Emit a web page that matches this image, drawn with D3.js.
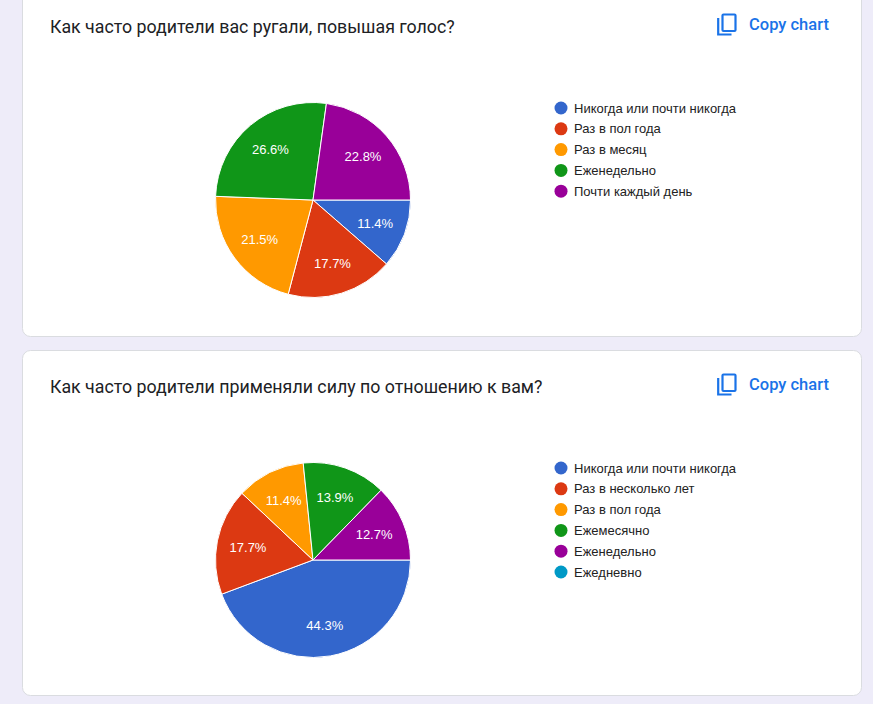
<!DOCTYPE html>
<html><head><meta charset="utf-8">
<script src="https://cdn.jsdelivr.net/npm/d3@7"></script>
<style>
html,body{margin:0;padding:0;background:#eeecf9;}
svg{display:block;}
</style></head>
<body>
<svg id="c" width="873" height="704"></svg>
<script>
const colors = ["#3366cc","#dc3912","#ff9900","#109618","#990099","#0099c6"];

const title1 = "Как часто родители вас ругали, повышая голос?";
const categories1 = ["Никогда или почти никогда","Раз в пол года","Раз в месяц","Еженедельно","Почти каждый день"];
const values1 = [11.4, 17.7, 21.5, 26.6, 22.8];

const title2 = "Как часто родители применяли силу по отношению к вам?";
const categories2 = ["Никогда или почти никогда","Раз в несколько лет","Раз в пол года","Ежемесячно","Еженедельно","Ежедневно"];
const values2 = [44.3, 17.7, 11.4, 13.9, 12.7, 0];

const svg = d3.select("#c");

function card(top, bottom, title, cats, vals) {
  const g = svg.append("g");
  g.append("rect").attr("x",22.5).attr("y",top+0.5).attr("width",839).attr("height",bottom-top)
    .attr("rx",8).attr("fill","#fff").attr("stroke","#dadce0");
  const ty = top + 43;
  g.append("text").attr("x",50).attr("y",ty).attr("font-family","Roboto").attr("font-size",17.8)
    .attr("fill","#202124").text(title);
  // copy icon
  const ix = 717, iy = ty - 20;
  g.append("rect").attr("x",ix+5.5).attr("y",iy+1.5).attr("width",13).attr("height",16.5).attr("rx",1)
    .attr("fill","none").attr("stroke","#1a73e8").attr("stroke-width",2.2);
  g.append("path").attr("d",`M${ix+1.2},${iy+5} V${iy+21.5} H${ix+14.5}`)
    .attr("fill","none").attr("stroke","#1a73e8").attr("stroke-width",2.2);
  g.append("text").attr("x",749).attr("y",ty-3.5).attr("font-family","Roboto").attr("font-weight",500)
    .attr("font-size",16.5).attr("fill","#1a73e8").text("Copy chart");

  const cx = 313, cy = top + 210, r = 97.5;
  const pie = d3.pie().sort(null).startAngle(Math.PI/2).endAngle(Math.PI/2 + 2*Math.PI);
  const arcs = pie(vals);
  const arc = d3.arc().innerRadius(0).outerRadius(r);
  const labelArc = d3.arc().innerRadius(r*0.68).outerRadius(r*0.68);
  const pg = g.append("g").attr("transform",`translate(${cx},${cy})`);
  pg.selectAll("path").data(arcs.filter(d=>d.value>0)).join("path")
    .attr("d",arc).attr("fill",d=>colors[d.index]).attr("stroke","#fff").attr("stroke-width",1);
  pg.selectAll("text").data(arcs.filter(d=>d.value>0)).join("text")
    .attr("transform",d=>`translate(${labelArc.centroid(d)})`)
    .attr("text-anchor","middle").attr("dy","0.36em")
    .attr("font-family","Liberation Sans, Arial").attr("font-size",13).attr("fill","#fff")
    .text(d=>d.value.toFixed(1)+"%");

  const ly = d3.scalePoint().domain(cats).range([top+118, top+118+20.8*(cats.length-1)]);
  const lg = g.append("g");
  lg.selectAll("circle").data(cats).join("circle")
    .attr("cx",561).attr("cy",d=>ly(d)).attr("r",6.5).attr("fill",(d,i)=>colors[i]);
  lg.selectAll("text").data(cats).join("text")
    .attr("x",574).attr("y",d=>ly(d)).attr("dy","0.36em")
    .attr("font-family","Liberation Sans, Arial").attr("font-size",13).attr("fill","#222")
    .text(d=>d);
}

card(-10, 336, title1, categories1, values1);
card(350, 695, title2, categories2, values2);
</script>
</body></html>
